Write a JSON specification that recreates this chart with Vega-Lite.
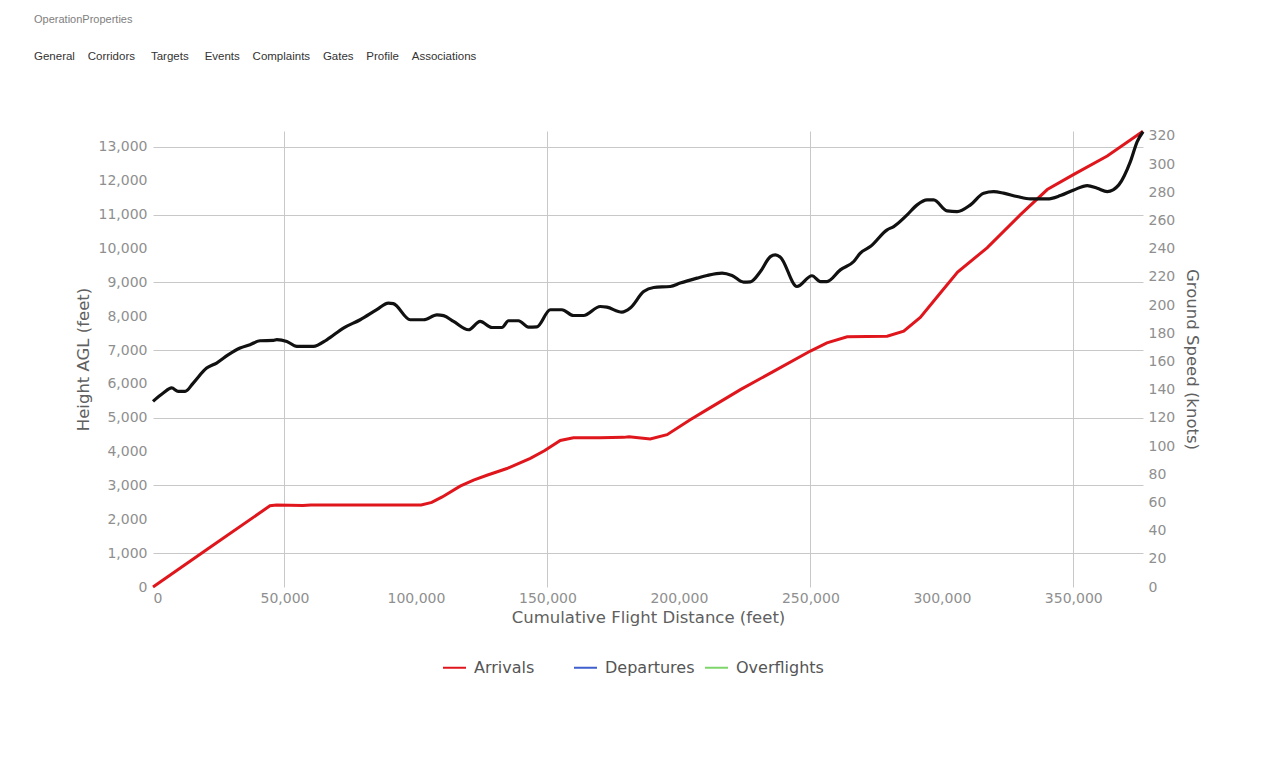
{
  "$schema": "https://vega.github.io/schema/vega-lite/v6.json",
  "width": 990,
  "height": 456,
  "autosize": {"type": "none"},
  "padding": {"left": 153, "top": 131, "right": 125, "bottom": 181},
  "background": "white",
  "title": {
    "text": "OperationProperties",
    "subtitle": "General\u00a0\u00a0\u00a0\u00a0Corridors\u00a0\u00a0\u00a0\u00a0\u00a0Targets\u00a0\u00a0\u00a0\u00a0\u00a0Events\u00a0\u00a0\u00a0\u00a0Complaints\u00a0\u00a0\u00a0\u00a0Gates\u00a0\u00a0\u00a0\u00a0Profile\u00a0\u00a0\u00a0\u00a0Associations",
    "anchor": "start",
    "frame": "group",
    "dx": -119,
    "offset": 63,
    "font": "Liberation Sans",
    "fontSize": 11,
    "fontWeight": "normal",
    "color": "#808080",
    "subtitleFont": "Liberation Sans",
    "subtitleFontSize": 11.5,
    "subtitleColor": "#333333",
    "subtitlePadding": 26
  },
  "config": {
    "view": {"stroke": null},
    "font": "DejaVu Sans",
    "axis": {
      "domain": false,
      "ticks": false,
      "labelFont": "DejaVu Sans",
      "labelFontSize": 14,
      "labelColor": "#8f8f8f",
      "titleFont": "DejaVu Sans",
      "titleFontSize": 16.5,
      "titleFontWeight": "normal",
      "titleColor": "#606060",
      "gridColor": "#c8c8c8",
      "gridWidth": 1
    },
    "legend": {
      "orient": "none",
      "legendX": 289,
      "legendY": 524,
      "direction": "horizontal",
      "columns": 3,
      "gridAlign": "all",
      "symbolType": "stroke",
      "symbolSize": 529,
      "symbolStrokeWidth": 2,
      "labelFont": "DejaVu Sans",
      "labelFontSize": 16,
      "labelColor": "#555555",
      "labelOffset": 7,
      "columnPadding": 6
    }
  },
  "layer": [
    {
      "data": {
        "values": [
          {"distance": 0, "height": 0, "series": "Arrivals"},
          {"distance": 22000, "height": 1190, "series": "Arrivals"},
          {"distance": 44500, "height": 2400, "series": "Arrivals"},
          {"distance": 47000, "height": 2420, "series": "Arrivals"},
          {"distance": 57000, "height": 2405, "series": "Arrivals"},
          {"distance": 60000, "height": 2420, "series": "Arrivals"},
          {"distance": 102000, "height": 2420, "series": "Arrivals"},
          {"distance": 106000, "height": 2500, "series": "Arrivals"},
          {"distance": 110000, "height": 2660, "series": "Arrivals"},
          {"distance": 116800, "height": 2980, "series": "Arrivals"},
          {"distance": 121900, "height": 3160, "series": "Arrivals"},
          {"distance": 127000, "height": 3300, "series": "Arrivals"},
          {"distance": 134600, "height": 3500, "series": "Arrivals"},
          {"distance": 143500, "height": 3800, "series": "Arrivals"},
          {"distance": 149000, "height": 4030, "series": "Arrivals"},
          {"distance": 154900, "height": 4330, "series": "Arrivals"},
          {"distance": 159900, "height": 4410, "series": "Arrivals"},
          {"distance": 170000, "height": 4410, "series": "Arrivals"},
          {"distance": 179000, "height": 4420, "series": "Arrivals"},
          {"distance": 181000, "height": 4440, "series": "Arrivals"},
          {"distance": 189100, "height": 4370, "series": "Arrivals"},
          {"distance": 195500, "height": 4500, "series": "Arrivals"},
          {"distance": 204300, "height": 4940, "series": "Arrivals"},
          {"distance": 210700, "height": 5240, "series": "Arrivals"},
          {"distance": 223400, "height": 5830, "series": "Arrivals"},
          {"distance": 236000, "height": 6370, "series": "Arrivals"},
          {"distance": 250000, "height": 6970, "series": "Arrivals"},
          {"distance": 256300, "height": 7210, "series": "Arrivals"},
          {"distance": 264000, "height": 7390, "series": "Arrivals"},
          {"distance": 279200, "height": 7410, "series": "Arrivals"},
          {"distance": 285500, "height": 7560, "series": "Arrivals"},
          {"distance": 291800, "height": 7960, "series": "Arrivals"},
          {"distance": 299500, "height": 8690, "series": "Arrivals"},
          {"distance": 306000, "height": 9300, "series": "Arrivals"},
          {"distance": 317200, "height": 10020, "series": "Arrivals"},
          {"distance": 329900, "height": 11000, "series": "Arrivals"},
          {"distance": 340100, "height": 11740, "series": "Arrivals"},
          {"distance": 350200, "height": 12190, "series": "Arrivals"},
          {"distance": 362900, "height": 12730, "series": "Arrivals"},
          {"distance": 376500, "height": 13460, "series": "Arrivals"}
        ]
      },
      "mark": {"type": "line", "strokeWidth": 3},
      "encoding": {
        "x": {
          "field": "distance",
          "type": "quantitative",
          "title": "Cumulative Flight Distance (feet)",
          "scale": {"domain": [0, 376500], "nice": false, "zero": true},
          "axis": {
            "values": [0, 50000, 100000, 150000, 200000, 250000, 300000, 350000],
            "format": ",d",
            "labelPadding": 4,
            "titlePadding": 4,
            "grid": true,
            "gridOpacity": {"condition": {"test": "datum.value % 100000 == 50000", "value": 1}, "value": 0}
          }
        },
        "y": {
          "field": "height",
          "type": "quantitative",
          "title": "Height AGL (feet)",
          "scale": {"domain": [0, 13470], "nice": false},
          "axis": {
            "values": [0, 1000, 2000, 3000, 4000, 5000, 6000, 7000, 8000, 9000, 10000, 11000, 12000, 13000],
            "format": ",d",
            "labelPadding": 6,
            "titlePadding": 7,
            "grid": true,
            "gridOpacity": {"condition": {"test": "datum.value % 2000 == 1000", "value": 1}, "value": 0}
          }
        },
        "color": {
          "field": "series",
          "type": "nominal",
          "scale": {
            "domain": ["Arrivals", "Departures", "Overflights"],
            "range": ["#e0161d", "#3f5fcf", "#7ed66a"]
          },
          "legend": {"title": null}
        }
      }
    },
    {
      "data": {
        "values": [
          {"distance": 0, "speed": 131.7},
          {"distance": 3900, "speed": 137.6},
          {"distance": 7100, "speed": 141.2},
          {"distance": 9600, "speed": 138.8},
          {"distance": 12200, "speed": 138.8},
          {"distance": 15300, "speed": 144.7},
          {"distance": 20400, "speed": 155.3},
          {"distance": 24200, "speed": 158.9},
          {"distance": 28700, "speed": 164.8},
          {"distance": 33100, "speed": 169.5},
          {"distance": 36900, "speed": 171.9},
          {"distance": 40700, "speed": 174.7},
          {"distance": 45800, "speed": 174.9},
          {"distance": 47100, "speed": 175.5},
          {"distance": 50900, "speed": 174.2},
          {"distance": 54700, "speed": 170.7},
          {"distance": 61000, "speed": 170.7},
          {"distance": 66100, "speed": 175.4},
          {"distance": 72400, "speed": 183.7},
          {"distance": 78800, "speed": 189.6},
          {"distance": 85100, "speed": 196.7},
          {"distance": 89500, "speed": 201.4},
          {"distance": 91400, "speed": 201.0},
          {"distance": 97800, "speed": 189.6},
          {"distance": 102900, "speed": 189.6},
          {"distance": 108000, "speed": 193.1},
          {"distance": 110500, "speed": 192.5},
          {"distance": 114300, "speed": 188.4},
          {"distance": 120000, "speed": 182.5},
          {"distance": 124400, "speed": 188.4},
          {"distance": 128900, "speed": 184.1},
          {"distance": 132700, "speed": 184.1},
          {"distance": 135200, "speed": 188.9},
          {"distance": 139000, "speed": 188.9},
          {"distance": 142800, "speed": 184.4},
          {"distance": 146000, "speed": 184.6},
          {"distance": 151100, "speed": 196.7},
          {"distance": 155500, "speed": 196.7},
          {"distance": 159900, "speed": 192.6},
          {"distance": 163700, "speed": 192.6},
          {"distance": 170100, "speed": 199.0},
          {"distance": 172600, "speed": 198.5},
          {"distance": 178300, "speed": 195.0},
          {"distance": 181500, "speed": 197.9},
          {"distance": 186600, "speed": 209.6},
          {"distance": 190400, "speed": 212.5},
          {"distance": 196700, "speed": 213.2},
          {"distance": 200500, "speed": 215.6},
          {"distance": 206900, "speed": 219.1},
          {"distance": 210700, "speed": 221.0},
          {"distance": 216400, "speed": 222.7},
          {"distance": 220200, "speed": 221.0},
          {"distance": 224600, "speed": 216.3},
          {"distance": 227200, "speed": 216.5},
          {"distance": 231000, "speed": 223.8},
          {"distance": 234800, "speed": 234.4},
          {"distance": 236700, "speed": 235.6},
          {"distance": 238600, "speed": 234.0},
          {"distance": 244900, "speed": 213.2},
          {"distance": 250600, "speed": 220.8},
          {"distance": 253800, "speed": 216.7},
          {"distance": 256300, "speed": 216.7},
          {"distance": 261400, "speed": 225.0},
          {"distance": 266500, "speed": 230.9},
          {"distance": 269000, "speed": 236.9},
          {"distance": 272800, "speed": 241.5},
          {"distance": 279200, "speed": 253.4},
          {"distance": 281700, "speed": 255.7},
          {"distance": 286800, "speed": 264.0},
          {"distance": 290600, "speed": 271.1},
          {"distance": 294400, "speed": 274.6},
          {"distance": 296900, "speed": 274.6},
          {"distance": 302000, "speed": 266.8},
          {"distance": 305800, "speed": 266.3},
          {"distance": 310900, "speed": 271.1},
          {"distance": 315900, "speed": 279.4},
          {"distance": 319700, "speed": 280.5},
          {"distance": 323500, "speed": 279.4},
          {"distance": 328600, "speed": 277.0},
          {"distance": 333700, "speed": 275.3},
          {"distance": 340100, "speed": 275.3},
          {"distance": 345100, "speed": 277.7},
          {"distance": 350200, "speed": 281.7},
          {"distance": 355300, "speed": 284.8},
          {"distance": 359100, "speed": 282.9},
          {"distance": 362900, "speed": 280.5},
          {"distance": 367300, "speed": 285.3},
          {"distance": 371700, "speed": 301.8},
          {"distance": 374300, "speed": 316.0},
          {"distance": 376500, "speed": 323.0}
        ]
      },
      "mark": {"type": "line", "strokeWidth": 3.2, "color": "#111111", "interpolate": "monotone"},
      "encoding": {
        "x": {"field": "distance", "type": "quantitative"},
        "y": {
          "field": "speed",
          "type": "quantitative",
          "title": "Ground Speed (knots)",
          "scale": {"domain": [0, 323.5], "nice": false},
          "axis": {
            "orient": "right",
            "values": [0, 20, 40, 60, 80, 100, 120, 140, 160, 180, 200, 220, 240, 260, 280, 300, 320],
            "labelPadding": 5,
            "titlePadding": 9,
            "grid": false
          }
        }
      }
    }
  ],
  "resolve": {"scale": {"y": "independent"}}
}
